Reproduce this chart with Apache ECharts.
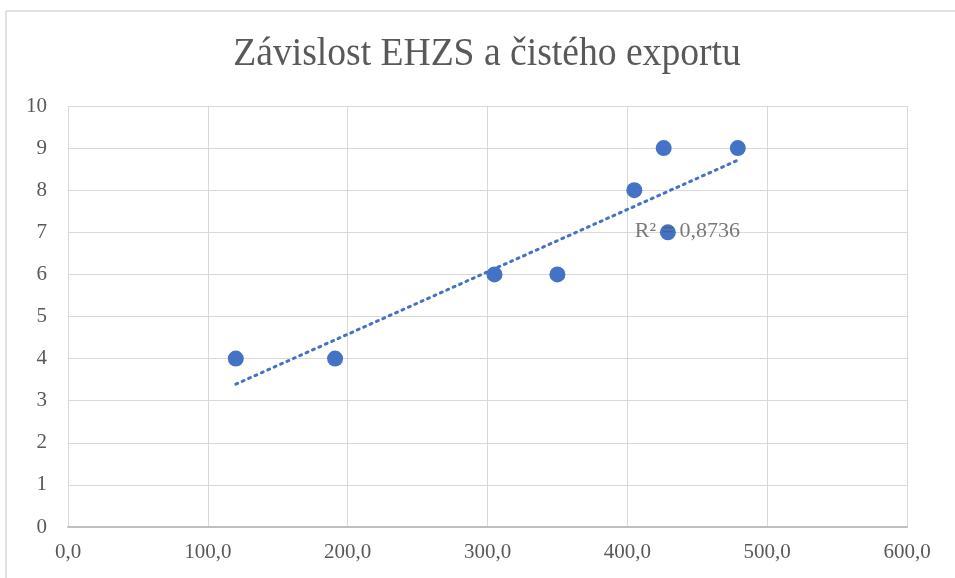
<!DOCTYPE html>
<html>
<head>
<meta charset="utf-8">
<script src="https://cdn.jsdelivr.net/npm/echarts@6/dist/echarts.min.js"></script>
<style>html,body{margin:0;padding:0;background:#fff}#c{width:955px;height:578px}</style>
</head>
<body>
<div id="c"></div>
<script>
var titleText = 'Závislost EHZS a čistého exportu';
var xValues = [120, 191, 305, 350, 405, 426, 429, 479];
var yValues = [4, 4, 6, 6, 8, 9, 7, 9];
var xTicks = [0, 100, 200, 300, 400, 500, 600];
var yTicks = [0, 1, 2, 3, 4, 5, 6, 7, 8, 9, 10];
var r2Text = 'R² = 0,8736';
var r2LabelPos = [443, 7.03];

// linear regression (trendline) computed from the data
var n = xValues.length, mx = 0, my = 0;
for (var i = 0; i < n; i++) { mx += xValues[i]; my += yValues[i]; }
mx /= n; my /= n;
var sxy = 0, sxx = 0;
for (var i = 0; i < n; i++) {
  sxy += (xValues[i] - mx) * (yValues[i] - my);
  sxx += (xValues[i] - mx) * (xValues[i] - mx);
}
var slope = sxy / sxx, icpt = my - slope * mx;
var xmin = Math.min.apply(null, xValues), xmax = Math.max.apply(null, xValues);
var trend = [[xmin, icpt + slope * xmin], [xmax, icpt + slope * xmax]];

var font = "'Liberation Serif', 'Times New Roman', serif";
var chart = echarts.init(document.getElementById('c'));
chart.setOption({
  animation: false,
  backgroundColor: '#fff',
  graphic: [
    { type: 'line', shape: { x1: 6, y1: 11, x2: 955, y2: 11 }, style: { stroke: '#d9d9d9', lineWidth: 1.5 } },
    { type: 'line', shape: { x1: 6, y1: 11, x2: 6, y2: 578 }, style: { stroke: '#d9d9d9', lineWidth: 1.5 } },
    { type: 'text', x: 487, y: 54, scaleX: 0.94,
      style: { text: titleText, fontFamily: font, fontSize: 40, fill: '#595959',
        align: 'center', verticalAlign: 'middle' } }
  ],
  grid: { left: 68, top: 106, width: 839, height: 421, containLabel: false },
  xAxis: {
    type: 'value', min: 0, max: 600, interval: 100,
    axisLine: { show: true, onZero: false, lineStyle: { color: '#bfbfbf', width: 2 } },
    axisTick: { show: false },
    splitLine: { show: true, lineStyle: { color: '#d9d9d9', width: 1 } },
    axisLabel: { margin: 15, fontFamily: font, fontSize: 21, color: '#595959',
      formatter: function (v) { return v.toFixed(1).replace('.', ','); } }
  },
  yAxis: {
    type: 'value', min: 0, max: 10, interval: 1,
    axisLine: { show: false }, axisTick: { show: false },
    splitLine: { show: true, lineStyle: { color: '#d9d9d9', width: 1 } },
    axisLabel: { margin: 21, fontFamily: font, fontSize: 21, color: '#595959' }
  },
  series: [
    {
      type: 'line', data: trend, symbol: 'none', silent: true, z: 2,
      lineStyle: { color: '#4472C4', width: 3, type: [2, 5], cap: 'round' }
    },
    {
      type: 'scatter', z: 3,
      data: xValues.map(function (x, i) { return [x, yValues[i]]; }),
      symbol: 'circle', symbolSize: 16,
      itemStyle: { color: '#4472C4', opacity: 1 }
    },
    {
      type: 'scatter', z: 4, silent: true,
      data: [r2LabelPos], symbolSize: 1, itemStyle: { color: 'rgba(0,0,0,0)' },
      label: { show: true, position: 'inside', formatter: r2Text,
        fontFamily: font, fontSize: 22, color: '#595959' }
    }
  ]
});
</script>
</body>
</html>
